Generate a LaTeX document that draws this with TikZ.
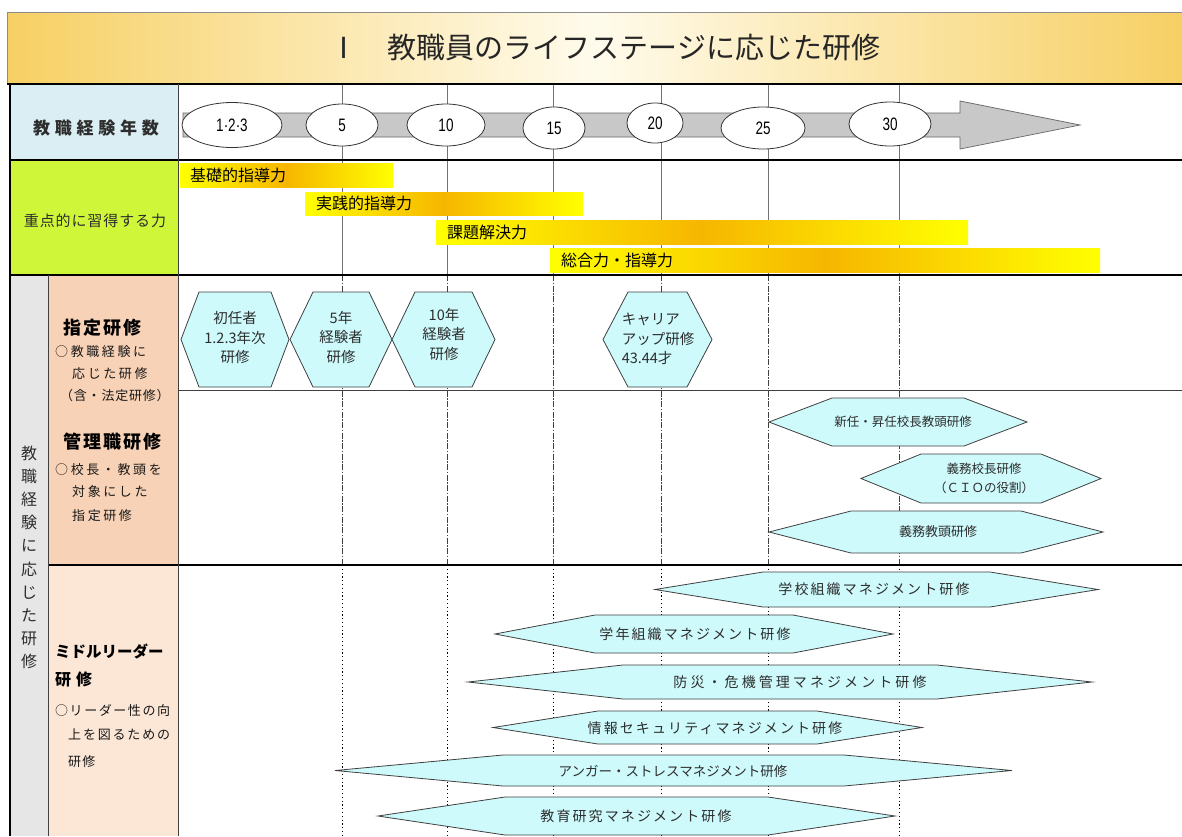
\documentclass[tikz,border=0pt]{standalone}
\usepackage{fontspec}
\usepackage{graphicx}
\setmainfont{Noto Sans CJK JP}
\newfontfamily\numfont{Liberation Sans}
\usetikzlibrary{shapes.geometric}
\newcommand\myfs[1]{\fontsize{#1}{#1}\selectfont}
\newcommand\myfsl[2]{\fontsize{#1}{#2}\selectfont}
\newcommand\myls[1]{\addfontfeature{LetterSpace=#1}}
\definecolor{titleor}{RGB}{247,208,100}
\definecolor{titlecr}{RGB}{255,251,236}
\definecolor{cellblue}{RGB}{218,238,243}
\definecolor{celllime}{RGB}{208,246,58}
\definecolor{cellgray}{RGB}{230,230,230}
\definecolor{peachA}{RGB}{248,210,182}
\definecolor{peachB}{RGB}{252,231,215}
\definecolor{hexcyan}{RGB}{206,250,252}
\definecolor{bandgray}{RGB}{200,200,200}
\definecolor{barorange}{RGB}{246,182,0}
\definecolor{txtgray}{RGB}{45,45,45}
\newcommand\myhexagon[5]{%
  \draw[hexsty] ({#1-#3},#2) -- ({#1-#3+#5},{#2-#4}) -- ({#1+#3-#5},{#2-#4}) -- ({#1+#3},#2) -- ({#1+#3-#5},{#2+#4}) -- ({#1-#3+#5},{#2+#4}) -- cycle;}
\begin{document}
\begin{tikzpicture}[x=1pt,y=-1pt,
  every node/.style={inner sep=0pt, text=txtgray},
  vgridA/.style={draw=black!55, line width=0.7pt},
  vgridB/.style={draw=black!75, line width=0.8pt, dash pattern=on 6pt off 1.5pt on 1.5pt off 1.5pt},
  vgridC/.style={draw=black, line width=1pt, dash pattern=on 1.2pt off 2.6pt},
  frame/.style={draw=black, line width=1.6pt},
  thinframe/.style={draw=black!75, line width=1pt},
  hexsty/.style={draw=black!75, line width=0.8pt, fill=hexcyan},
  yearell/.style={ellipse, draw=black!80, line width=0.8pt, fill=white, inner sep=0pt},
  bar/.style={left color=yellow, right color=yellow, middle color=barorange},
  bartxt/.style={anchor=west, text=black, font=\myfs{16}},
  hextxt/.style={align=center, font=\myfsl{14.5}{19.5}},
  mgtxt/.style={align=center, font=\myfsl{12.5}{19}},
  mltxt/.style={font=\myfs{14}\myls{15}},
  lbl/.style={anchor=west, text=black!90, font=\myfs{13}\myls{20}},
  lblb/.style={anchor=west, text=black, font=\bfseries\myfs{18}\myls{11}},
  yearnum/.style={font=\numfont\myfs{18}, text=black}
]
\useasboundingbox (0,0) rectangle (1182,836);
\fill[white] (0,0) rectangle (1182,836);

% title bar
\shade[left color=titleor, right color=titleor, middle color=titlecr] (7,12) rectangle (1182,84);
\draw[black!45, line width=0.6pt] (7,84) -- (7,12) -- (1182,12);
\node[font=\myfs{29}, text=black!85] (title) at (605,48) {Ⅰ　教職員のライフステージに応じた研修};

% label cells
\fill[cellblue] (10,84) rectangle (178,160);
\fill[celllime] (10,160) rectangle (178,275);
\fill[cellgray] (10,275) rectangle (48,836);
\fill[peachA] (48,275) rectangle (178,565);
\fill[peachB] (48,565) rectangle (178,836);

% vertical year lines
\foreach \x in {342,447,553,661,768,899} {
  \draw[vgridA] (\x,84) -- (\x,275);
  \draw[vgridB] (\x,275) -- (\x,565);
  \draw[vgridC] (\x,565) -- (\x,836);
}

% row labels
\node[font=\bfseries\myfs{17}\myls{28}] (lyears) at (96,128) {教職経験年数};
\node[font=\myfs{15}\myls{6}] (lpower) at (95,221) {重点的に習得する力};
\node[align=center, font=\myfsl{16}{23.2}] (lvert) at (29,557.5) {教\\職\\経\\験\\に\\応\\じ\\た\\研\\修};

% timeline arrow
\draw[fill=bandgray, draw=black!60, line width=0.7pt] (183,113) -- (960,113) -- (960,101) -- (1080,125) -- (960,149) -- (960,137) -- (183,137) -- cycle;
\node[yearell, minimum width=100pt, minimum height=45pt] (y123) at (232,125) {};
\node[yearnum] (t123) at (y123) {\scalebox{0.75}[1]{1·2·3}};
\node[yearell, minimum width=72pt, minimum height=42pt] (y5) at (342,125) {};
\node[yearnum] (t5) at (y5) {\scalebox{0.75}[1]{5}};
\node[yearell, minimum width=78pt, minimum height=42pt] (y10) at (446,125) {};
\node[yearnum] (t10) at (y10) {\scalebox{0.75}[1]{10}};
\node[yearell, minimum width=62pt, minimum height=42pt] (y15) at (554,128) {};
\node[yearnum] (t15) at (y15) {\scalebox{0.75}[1]{15}};
\node[yearell, minimum width=56pt, minimum height=40pt] (y20) at (655,123) {};
\node[yearnum] (t20) at (y20) {\scalebox{0.75}[1]{20}};
\node[yearell, minimum width=84pt, minimum height=42pt] (y25) at (763,128) {};
\node[yearnum] (t25) at (y25) {\scalebox{0.75}[1]{25}};
\node[yearell, minimum width=82pt, minimum height=44pt] (y30) at (890,124) {};
\node[yearnum] (t30) at (y30) {\scalebox{0.75}[1]{30}};

% competence bars
\shade[bar] (180,163) rectangle (393,187);
\node[bartxt] (b1) at (190,175) {基礎的指導力};
\shade[bar] (305,192) rectangle (583,215);
\node[bartxt] (b2) at (316,203.5) {実践的指導力};
\shade[bar] (436,220) rectangle (968,244);
\node[bartxt] (b3) at (447,232) {課題解決力};
\shade[bar] (550,248) rectangle (1100,272);
\node[bartxt] (b4) at (561,260) {総合力・指導力};

% peach column texts
\node[lblb] (p1) at (63,328) {指定研修};
\node[lbl] (p2) at (55,352) {○教職経験に};
\node[lbl] (p3) at (72,374) {応じた研修};
\node[lbl, font=\myfs{13}\myls{6}] (p4) at (60,396) {（含・法定研修）};
\node[lblb] (p5) at (63,442) {管理職研修};
\node[lbl] (p6) at (55,470) {○校長・教頭を};
\node[lbl] (p7) at (72,492) {対象にした};
\node[lbl] (p8) at (72,516) {指定研修};
\node[lblb, font=\bfseries\myfs{15.5}] (p9) at (55,651) {ミドルリーダー};
\node[lblb, font=\bfseries\myfs{16}] (p10) at (55,679) {研\hspace{5pt}修};
\node[lbl, font=\myfs{13}\myls{12}] (p11) at (55,711) {○リーダー性の向};
\node[lbl, font=\myfs{13}\myls{14}] (p12) at (68,735) {上を図るための};
\node[lbl, font=\myfs{13}\myls{10}] (p13) at (68,762) {研修};

% designated training hexagons
\myhexagon{235}{339.5}{54}{47.5}{18}
\node[hextxt] (hA) at (235,338) {初任者\\1.2.3年次\\研修};
\myhexagon{341}{339.5}{51}{47.5}{23}
\node[hextxt] (hB) at (341,337) {5年\\経験者\\研修};
\myhexagon{443.5}{339.5}{51.5}{47.5}{23}
\node[hextxt] (hC) at (444,334) {10年\\経験者\\研修};
\myhexagon{657.5}{339.5}{54.5}{47.5}{25}
\node[hextxt, align=left] (hD) at (658,339) {キャリア\\アップ研修\\43.44才};

% management hexagons
\myhexagon{898}{422}{129}{24}{63}
\node[mgtxt] (m1) at (903,422) {新任・昇任校長教頭研修};
\myhexagon{981}{478.5}{120}{24.5}{60}
\node[mgtxt] (m2) at (984,478.5) {義務校長研修\\（ＣＩＯの役割）};
\myhexagon{936}{532}{167}{21}{82}
\node[mgtxt, font=\myfs{13}] (m3) at (938,532) {義務教頭研修};

% middle leader hexagons
\myhexagon{876.5}{589.5}{221.5}{17.5}{108}
\node[mltxt] (ml1) at (874,589.5) {学校組織マネジメント研修};
\myhexagon{694}{634}{199}{19}{100}
\node[mltxt] (ml2) at (695,634) {学年組織マネジメント研修};
\myhexagon{780}{682}{312}{17}{155}
\node[mltxt, font=\myfs{14}\myls{22}] (ml3) at (800,682) {防災・危機管理マネジメント研修};
\myhexagon{707.5}{727.5}{214.5}{16.5}{105}
\node[mltxt] (ml4) at (715,728) {情報セキュリティマネジメント研修};
\myhexagon{673.5}{770.5}{338.5}{15.5}{168}
\node[mltxt, font=\myfs{13.5}] (ml5) at (673,771) {アンガー・ストレスマネジメント研修};
\myhexagon{636.5}{816}{258.5}{19}{127}
\node[mltxt] (ml6) at (636,816) {教育研究マネジメント研修};

% frame lines
\draw[frame] (7,84) -- (1182,84);
\draw[frame] (10,160) -- (1182,160);
\draw[frame] (10,275) -- (1182,275);
\draw[thinframe] (178,390) -- (1182,390);
\draw[frame] (48,565) -- (1182,565);
\draw[frame] (10,84) -- (10,836);
\draw[thinframe] (178,84) -- (178,836);
\draw[thinframe] (48,275) -- (48,836);
\end{tikzpicture}
\end{document}
